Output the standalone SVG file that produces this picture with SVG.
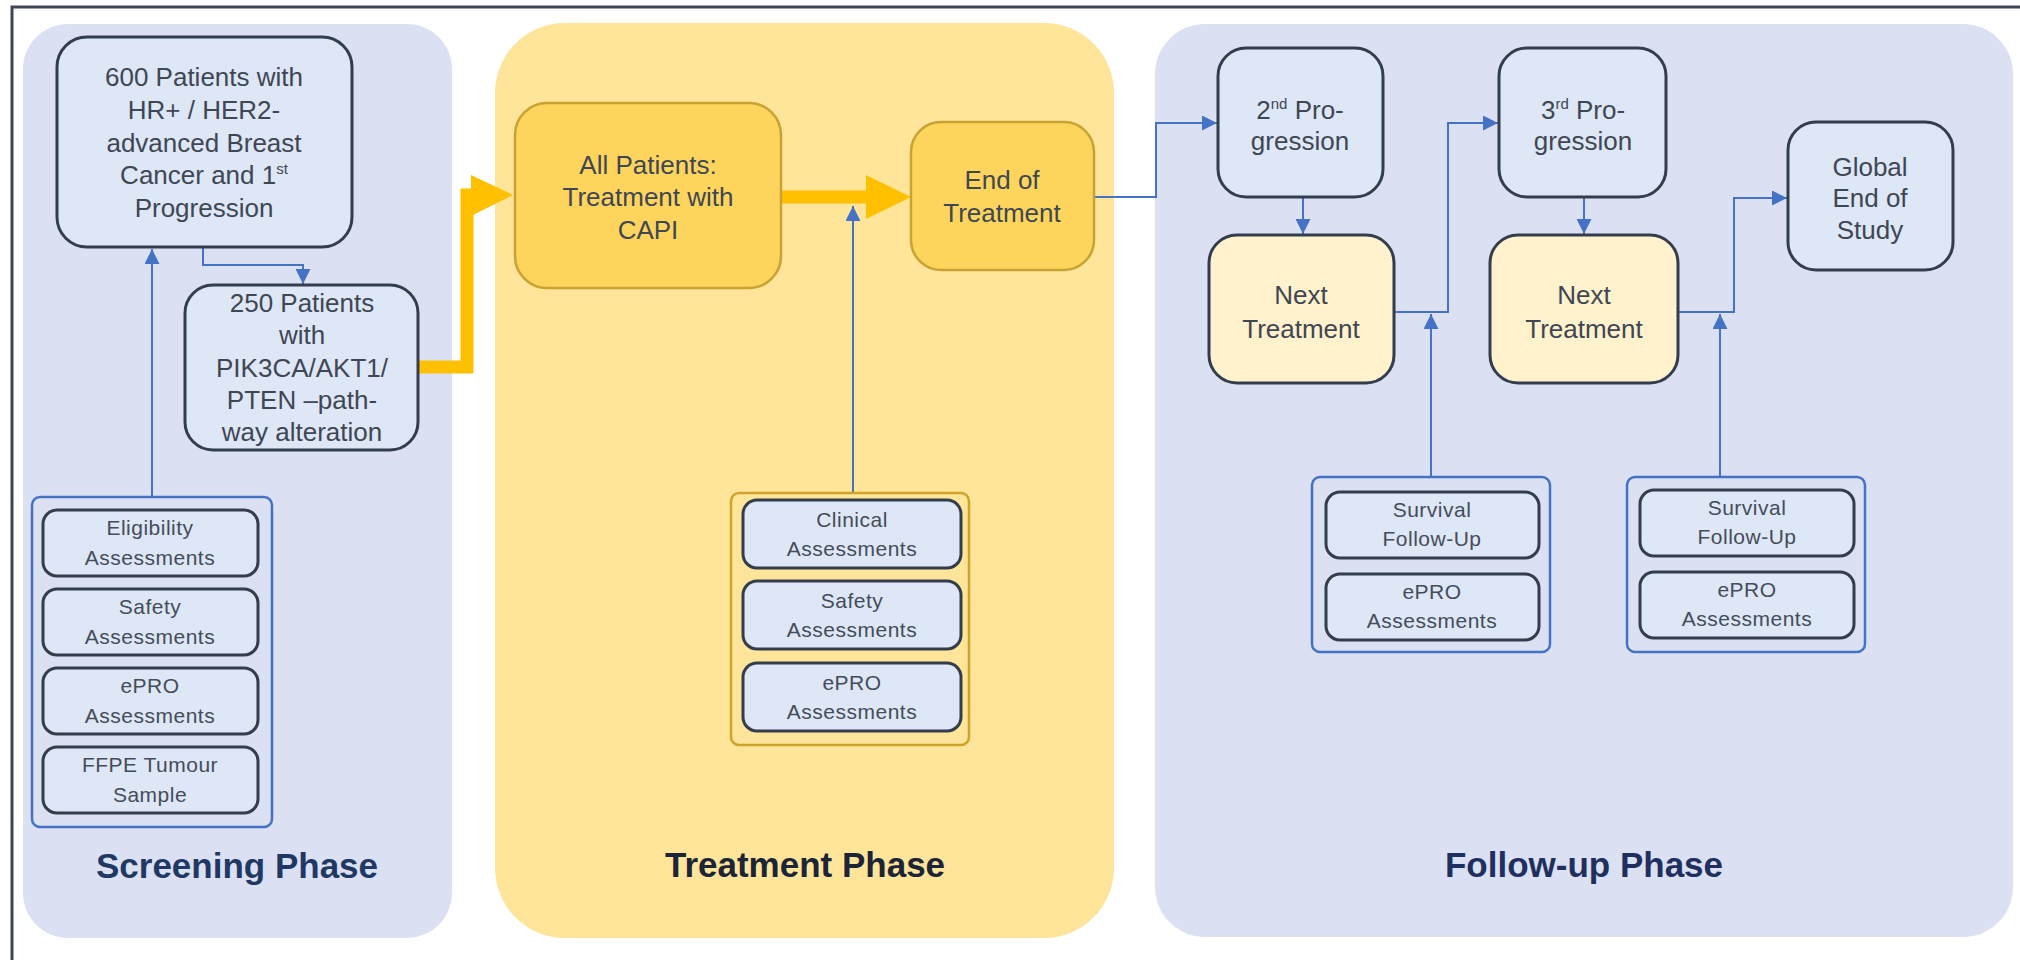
<svg xmlns="http://www.w3.org/2000/svg" width="2020" height="960" viewBox="0 0 2020 960">
<defs>
<marker id="ah" markerUnits="userSpaceOnUse" markerWidth="15" markerHeight="15" refX="15" refY="7.5" orient="auto">
<path d="M0,0 L15,7.5 L0,15 z" fill="#4472c4"/>
</marker>
<style>
.t{font-family:"Liberation Sans",Arial,sans-serif;font-size:26px;fill:#3f4654;text-anchor:middle}
.s{font-family:"Liberation Sans",Arial,sans-serif;font-size:21px;fill:#454c5a;text-anchor:middle;letter-spacing:0.5px}
.ph{font-family:"Liberation Sans",Arial,sans-serif;font-size:35px;font-weight:bold;text-anchor:middle}
.blue{fill:#dde7f6;stroke:#333d4d;stroke-width:3}
.nt{fill:#fff2cc;stroke:#333d4d;stroke-width:3}
.gold{fill:#fdd55c;stroke:#c9a234;stroke-width:2.5}
.grpb{fill:none;stroke:#4472c4;stroke-width:2.5}
.grpy{fill:none;stroke:#cfa22a;stroke-width:2.5}
.con{fill:none;stroke:#4472c4;stroke-width:2}
.thick{fill:none;stroke:#ffc000;stroke-width:13}
.sup{font-size:15px}
</style>
</defs>
<rect width="2020" height="960" fill="#ffffff"/>
<path d="M12,960 V7 H2020" fill="none" stroke="#3c4656" stroke-width="3"/>

<g id="panels">
<rect x="23" y="24" width="429" height="914" rx="45" fill="#dbe1f3"/>
<rect x="495" y="23" width="619" height="915" rx="70" fill="#fee59a"/>
<rect x="1155" y="24" width="858" height="913" rx="50" fill="#dbe1f3"/>
<text class="ph" x="237" y="878" fill="#1f3864">Screening Phase</text>
<text class="ph" x="805" y="877" fill="#1c2438">Treatment Phase</text>
<text class="ph" x="1584" y="877" fill="#1f3060">Follow-up Phase</text>
</g>

<g id="connectors">
<path class="con" d="M203,247 V265 H303 V284" marker-end="url(#ah)"/>
<path class="con" d="M152,497 V249" marker-end="url(#ah)"/>
<path class="thick" d="M418,367 H467 V195 H478"/>
<polygon points="471,175 513,195 471,216" fill="#ffc000"/>
<path class="thick" d="M781,197 H870"/>
<polygon points="866,175 911,197 866,219" fill="#ffc000"/>
<path class="con" d="M853,493 V206" marker-end="url(#ah)"/>
<path class="con" d="M1094,197 H1156 V123 H1217" marker-end="url(#ah)"/>
<path class="con" d="M1303,197 V234" marker-end="url(#ah)"/>
<path class="con" d="M1394,312 H1448 V123 H1498" marker-end="url(#ah)"/>
<path class="con" d="M1584,197 V234" marker-end="url(#ah)"/>
<path class="con" d="M1678,312 H1734 V198 H1787" marker-end="url(#ah)"/>
<path class="con" d="M1431,477 V314" marker-end="url(#ah)"/>
<path class="con" d="M1720,477 V314" marker-end="url(#ah)"/>
</g>

<g id="n600">
<rect class="blue" x="57" y="37" width="295" height="210" rx="30"/>
<text class="t" x="204" y="86">600 Patients with</text>
<text class="t" x="204" y="119">HR+ / HER2-</text>
<text class="t" x="204" y="152">advanced Breast</text>
<text class="t" x="204" y="184">Cancer and 1<tspan class="sup" dy="-10">st</tspan></text>
<text class="t" x="204" y="217">Progression</text>
</g>

<g id="n250">
<rect class="blue" x="185" y="285" width="233" height="165" rx="28"/>
<text class="t" x="302" y="312">250 Patients</text>
<text class="t" x="302" y="344">with</text>
<text class="t" x="302" y="377">PIK3CA/AKT1/</text>
<text class="t" x="302" y="409">PTEN –path-</text>
<text class="t" x="302" y="441">way alteration</text>
</g>

<g id="screening-assessments">
<rect class="grpb" x="32" y="497" width="240" height="330" rx="8"/>
<rect class="blue" x="43" y="510" width="215" height="66" rx="14"/>
<text class="s" x="150" y="535">Eligibility</text>
<text class="s" x="150" y="565">Assessments</text>
<rect class="blue" x="43" y="589" width="215" height="66" rx="14"/>
<text class="s" x="150" y="614">Safety</text>
<text class="s" x="150" y="644">Assessments</text>
<rect class="blue" x="43" y="668" width="215" height="66" rx="14"/>
<text class="s" x="150" y="693">ePRO</text>
<text class="s" x="150" y="723">Assessments</text>
<rect class="blue" x="43" y="747" width="215" height="66" rx="14"/>
<text class="s" x="150" y="772">FFPE Tumour</text>
<text class="s" x="150" y="802">Sample</text>
</g>

<g id="all-patients">
<rect class="gold" x="515" y="103" width="266" height="185" rx="32"/>
<text class="t" x="648" y="174">All Patients:</text>
<text class="t" x="648" y="206">Treatment with</text>
<text class="t" x="648" y="239">CAPI</text>
</g>

<g id="end-of-treatment">
<rect class="gold" x="911" y="122" width="183" height="148" rx="30"/>
<text class="t" x="1002" y="189">End of</text>
<text class="t" x="1002" y="222">Treatment</text>
</g>

<g id="treatment-assessments">
<rect class="grpy" x="731" y="493" width="238" height="252" rx="8"/>
<rect class="blue" x="743" y="500" width="218" height="68" rx="14"/>
<text class="s" x="852" y="527">Clinical</text>
<text class="s" x="852" y="556">Assessments</text>
<rect class="blue" x="743" y="581" width="218" height="68" rx="14"/>
<text class="s" x="852" y="608">Safety</text>
<text class="s" x="852" y="637">Assessments</text>
<rect class="blue" x="743" y="663" width="218" height="68" rx="14"/>
<text class="s" x="852" y="690">ePRO</text>
<text class="s" x="852" y="719">Assessments</text>
</g>

<g id="progression2">
<rect class="blue" x="1218" y="48" width="165" height="149" rx="28"/>
<text class="t" x="1300" y="119">2<tspan class="sup" dy="-10">nd</tspan><tspan dy="10"> Pro-</tspan></text>
<text class="t" x="1300" y="150">gression</text>
</g>

<g id="next-treatment1">
<rect class="nt" x="1209" y="235" width="185" height="148" rx="28"/>
<text class="t" x="1301" y="304">Next</text>
<text class="t" x="1301" y="338">Treatment</text>
</g>

<g id="progression3">
<rect class="blue" x="1499" y="48" width="167" height="149" rx="28"/>
<text class="t" x="1583" y="119">3<tspan class="sup" dy="-10">rd</tspan><tspan dy="10"> Pro-</tspan></text>
<text class="t" x="1583" y="150">gression</text>
</g>

<g id="next-treatment2">
<rect class="nt" x="1490" y="235" width="188" height="148" rx="28"/>
<text class="t" x="1584" y="304">Next</text>
<text class="t" x="1584" y="338">Treatment</text>
</g>

<g id="global-end">
<rect class="blue" x="1788" y="122" width="165" height="148" rx="28"/>
<text class="t" x="1870" y="176">Global</text>
<text class="t" x="1870" y="207">End of</text>
<text class="t" x="1870" y="239">Study</text>
</g>

<g id="followup-assessments1">
<rect class="grpb" x="1312" y="477" width="238" height="175" rx="8"/>
<rect class="blue" x="1326" y="492" width="213" height="66" rx="14"/>
<text class="s" x="1432" y="517">Survival</text>
<text class="s" x="1432" y="546">Follow-Up</text>
<rect class="blue" x="1326" y="574" width="213" height="66" rx="14"/>
<text class="s" x="1432" y="599">ePRO</text>
<text class="s" x="1432" y="628">Assessments</text>
</g>

<g id="followup-assessments2">
<rect class="grpb" x="1627" y="477" width="238" height="175" rx="8"/>
<rect class="blue" x="1640" y="490" width="214" height="66" rx="14"/>
<text class="s" x="1747" y="515">Survival</text>
<text class="s" x="1747" y="544">Follow-Up</text>
<rect class="blue" x="1640" y="572" width="214" height="66" rx="14"/>
<text class="s" x="1747" y="597">ePRO</text>
<text class="s" x="1747" y="626">Assessments</text>
</g>
</svg>
